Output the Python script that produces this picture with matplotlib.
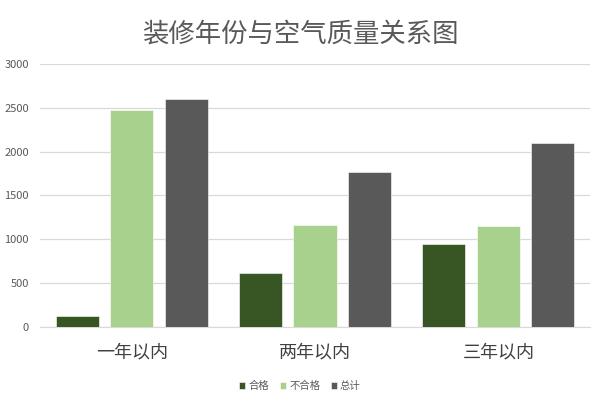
import matplotlib.pyplot as plt
import numpy as np

plt.rcParams['font.family'] = ['Noto Sans CJK SC', 'DejaVu Sans']

categories = ['一年以内', '两年以内', '三年以内']
series_names = ['合格', '不合格', '总计']
hege = [120, 610, 950]
buhege = [2480, 1160, 1150]
zongji = [2600, 1770, 2100]
colors = ['#375623', '#A9D18E', '#595959']

fig = plt.figure(figsize=(6, 4.01), dpi=100)
ax = fig.add_axes([0.0667, 0.185, 0.9166, 0.655])

x = np.arange(len(categories))
w = 0.235
step = 0.298
for i, (vals, name) in enumerate(zip([hege, buhege, zongji], series_names)):
    ax.bar(x + (i - 1) * step, vals, width=w, color=colors[i], label=name,
           edgecolor='white', linewidth=0.4, zorder=3)

ax.set_xlim(-0.5, 2.5)
ax.set_ylim(0, 3000)
ax.set_yticks(range(0, 3001, 500))
ax.yaxis.grid(True, color='#D9D9D9', linewidth=0.9, zorder=0)
ax.set_axisbelow(True)
for s in ['top', 'right', 'left']:
    ax.spines[s].set_visible(False)
ax.spines['bottom'].set_color('#D9D9D9')
ax.tick_params(axis='y', length=0, labelsize=8, labelcolor='#595959', pad=8)
ax.tick_params(axis='x', length=0, labelsize=13, labelcolor='#404040', pad=12)
ax.set_xticks(x)
ax.set_xticklabels(categories)

fig.text(0.5, 0.915, '装修年份与空气质量关系图', ha='center', va='center',
         fontsize=19, color='#595959')

fig.legend(loc='center', bbox_to_anchor=(0.5, 0.037), ncol=3, frameon=False,
           fontsize=7.5, labelcolor='#595959', handlelength=0.6, handleheight=0.6,
           handletextpad=0.3, columnspacing=1.0)

fig.savefig('out.png', dpi=100)
